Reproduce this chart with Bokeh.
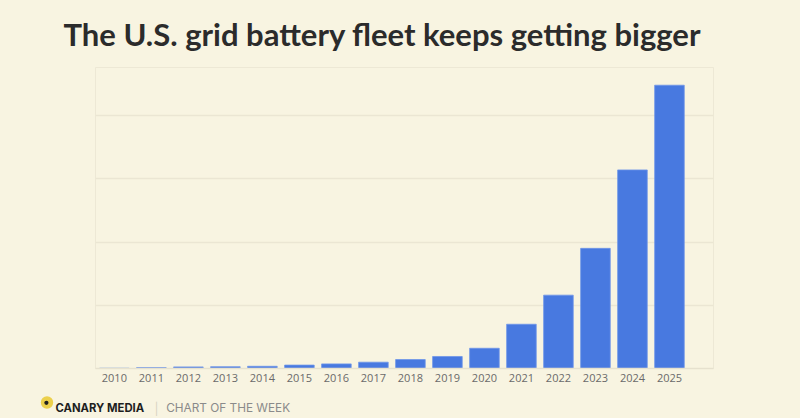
from bokeh.plotting import figure
from bokeh.models import Range1d, FixedTicker
from bokeh.layouts import column
from bokeh.core.properties import value
from bokeh.embed import file_html
from bokeh.resources import INLINE

# ---- data ----
years = list(range(2010, 2026))
capacity_gw = [0.05, 0.15, 0.25, 0.28, 0.35, 0.54, 0.73, 1.0, 1.42, 1.9,
               3.2, 7.0, 11.6, 19.0, 31.4, 44.8]
grid_ticks = [0, 10, 20, 30, 40]
title_text = "The U.S. grid battery fleet keeps getting bigger"
brand_text = "CANARY MEDIA"
series_text = "CHART OF THE WEEK"

BG = "#f8f4e1"
BAR = "#4879e0"
W = 800


def blank(height, y0, y1):
    f = figure(width=W, height=height, output_backend="svg", toolbar_location=None,
               x_range=Range1d(0, W), y_range=Range1d(y1, y0),
               x_axis_location=None, y_axis_location=None,
               min_border=0, background_fill_color=BG, border_fill_color=BG,
               outline_line_color=None, styles={"background-color": BG})
    f.grid.visible = False
    f.frame_align = False
    return f


# ---- header (title) ----
head = blank(60, 0, 60)
head.text(x=[63], y=[33.5], text=[title_text], text_font=value("Lato"),
          text_font_style="bold", text_font_size="31px", text_color="#2b2b2b",
          text_baseline="alphabetic", text_align="left")

# ---- main chart ----
p = figure(width=W, height=330, output_backend="svg", toolbar_location=None,
           x_range=Range1d(2009.49, 2026.19), y_range=Range1d(0, 47.6),
           min_border_left=95, min_border_right=87, min_border_top=7,
           min_border_bottom=22,
           background_fill_color=BG, border_fill_color=BG,
           outline_line_color="#ede8d5", outline_line_width=1,
           styles={"background-color": BG})
p.frame_align = False

p.vbar(x=years, top=capacity_gw, width=0.8, fill_color=BAR,
       line_color="#6f96e8", line_width=0.8)

p.xaxis.ticker = FixedTicker(ticks=years)
p.xaxis.major_label_text_font = "Open Sans"
p.xaxis.major_label_text_font_size = "11px"
p.xaxis.major_label_text_color = "#6a6a6a"
p.xaxis.axis_line_color = "#e6e1ce"
p.xaxis.axis_line_width = 1.5
p.xaxis.major_tick_line_color = None
p.xaxis.minor_tick_line_color = None
p.xaxis.major_tick_out = 0
p.xaxis.major_tick_in = 0
p.xaxis.major_label_standoff = 5

p.yaxis.ticker = FixedTicker(ticks=grid_ticks)
p.yaxis.visible = False
p.xgrid.grid_line_color = None
p.ygrid.grid_line_color = "#ebe6d3"
p.ygrid.grid_line_width = 1.5

# ---- footer ----
foot = blank(28, 390, 418)
foot.circle(x=[46.5], y=[402], radius=6.2, fill_color="#ecd04c", line_color=None)
foot.circle(x=[45.9], y=[402.3], radius=2.1, fill_color="#1f1f1f", line_color=None)
foot.text(x=[55], y=[407], text=[brand_text], text_font=value("Inter"),
          text_font_style="bold", text_font_size="11.3px", text_color="#1e1e1e",
          text_baseline="alphabetic")
foot.text(x=[154], y=[407.5], text=["|"], text_font=value("Inter"),
          text_font_size="12px", text_color="#d9d4c2", text_baseline="alphabetic")
foot.text(x=[165.7], y=[407], text=[series_text], text_font=value("Inter"),
          text_font_size="11.8px", text_color="#8a8a8a", text_baseline="alphabetic")

layout = column(head, p, foot, spacing=0, styles={"background-color": BG})

html = file_html(layout, INLINE)
css = "<style>html,body{margin:0;padding:0;background-color:%s;}</style></head>" % BG
html = html.replace("</head>", css, 1)
open("out.html", "w").write(html)
